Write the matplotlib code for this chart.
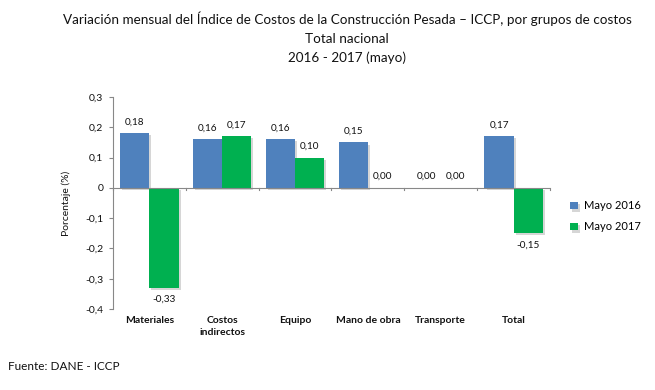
import matplotlib
matplotlib.use("Agg")
import matplotlib.pyplot as plt
import matplotlib.transforms as mtransforms
import matplotlib.patheffects as pe
import numpy as np

categories = ["Materiales", "Costos\nindirectos", "Equipo", "Mano de obra", "Transporte", "Total"]
mayo_2016 = [0.18, 0.16, 0.16, 0.15, 0.00, 0.17]
mayo_2017 = [-0.33, 0.17, 0.10, 0.00, 0.00, -0.15]
series_names = ["Mayo 2016", "Mayo 2017"]
yticks = [-0.4, -0.3, -0.2, -0.1, 0, 0.1, 0.2, 0.3]
ytick_labels = ["-0,4", "-0,3", "-0,2", "-0,1", "0", "0,1", "0,2", "0,3"]

plt.rcParams['font.family'] = ['Lato', 'DejaVu Sans']

fig = plt.figure(figsize=(6.55, 3.9), dpi=100)
ax = fig.add_axes([0.1725, 0.2077, 0.6672, 0.5436])

blue = "#4f81bd"
green = "#00b050"
x = np.arange(len(categories))
w = 0.4
shadow = [pe.SimplePatchShadow(offset=(1.5, -1.5), shadow_rgbFace="#999999", alpha=0.4), pe.Normal()]
b1 = ax.bar(x - w/2, mayo_2016, w, color=blue, label=series_names[0], path_effects=shadow)
b2 = ax.bar(x + w/2, mayo_2017, w, color=green, label=series_names[1], path_effects=shadow)

def fmt(v):
    return f"{v:.2f}".replace(".", ",")

for bars, vals in ((b1, mayo_2016), (b2, mayo_2017)):
    for rect, v in zip(bars, vals):
        cx = rect.get_x() + rect.get_width()/2
        if v >= 0:
            ax.annotate(fmt(v), (cx, v), xytext=(0, 5), textcoords="offset points",
                        ha="center", va="bottom", fontsize=7.2, color="#111111")
        else:
            ax.annotate(fmt(v), (cx, v), xytext=(0, -5), textcoords="offset points",
                        ha="center", va="top", fontsize=7.2, color="#111111")

ax.set_xlim(-0.5, len(categories) - 0.5)
ax.set_ylim(-0.4, 0.3)
ax.set_yticks(yticks)
ax.set_yticklabels(ytick_labels, fontsize=7.5, color="#111111")
ax.tick_params(axis="y", length=3, color="#888888", pad=4)
ax.set_ylabel("Porcentaje (%)", fontsize=7.5, color="#111111", labelpad=10)

for s in ("top", "right", "bottom"):
    ax.spines[s].set_visible(False)
ax.spines["left"].set_color("#888888")
ax.spines["left"].set_linewidth(0.8)

# horizontal axis line at zero with ticks between categories
ax.axhline(0, color="#888888", lw=0.8, zorder=1)
ax.set_xticks([])
for b in np.arange(-0.5, len(categories), 1.0):
    ax.plot([b, b], [0, -0.008], color="#888888", lw=0.8, clip_on=False)

trans = mtransforms.blended_transform_factory(ax.transData, ax.transAxes)
for xi, c in zip(x, categories):
    ax.text(xi, -0.035, c, transform=trans, ha="center", va="top", fontsize=7.5,
            fontweight="bold", color="#111111", linespacing=1.35)

leg = fig.legend(handles=[b1, b2], labels=series_names, loc="center left",
                 bbox_to_anchor=(0.855, 0.445), frameon=False, fontsize=8,
                 handlelength=0.7, handleheight=0.7, handletextpad=0.6, labelspacing=0.9)

tx = 0.53
fig.text(tx, 0.952, "Variación mensual del Índice de Costos de la Construcción Pesada – ICCP, por grupos de costos",
         ha="center", va="center", fontsize=9.7, color="#111111")
fig.text(tx, 0.900, "Total nacional", ha="center", va="center", fontsize=9.7, color="#111111")
fig.text(tx, 0.852, "2016 - 2017 (mayo)", ha="center", va="center", fontsize=9.7, color="#111111")
fig.text(0.012, 0.06, "Fuente: DANE - ICCP", ha="left", va="center", fontsize=8.5, color="#111111")

fig.savefig("out.png", dpi=100, facecolor="white")
